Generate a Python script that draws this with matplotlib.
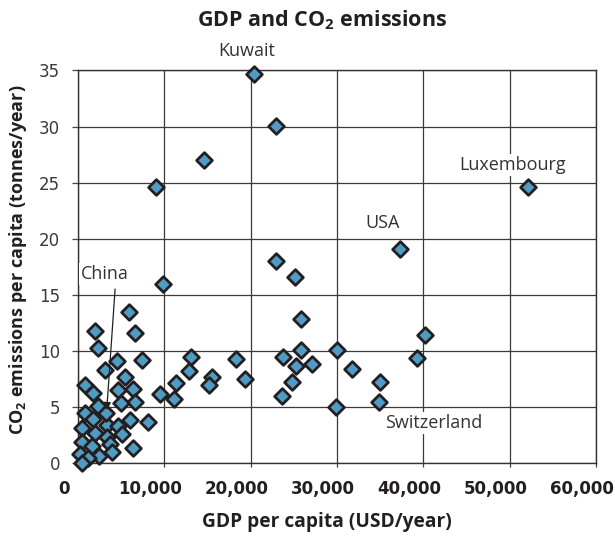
import matplotlib
matplotlib.use('Agg')
import matplotlib.pyplot as plt
import matplotlib.transforms as mtransforms

plt.rcParams['font.family'] = ['Open Sans', 'DejaVu Sans']
plt.rcParams['mathtext.fontset'] = 'custom'
plt.rcParams['mathtext.bf'] = 'Open Sans:bold'
plt.rcParams['mathtext.rm'] = 'Open Sans'
plt.rcParams['mathtext.default'] = 'bf'

# GDP per capita (USD/year) and CO2 per capita (tonnes/year)
gdp = [20430, 22980, 14600, 9040, 22980, 25110, 9880, 25800, 5940, 1940, 6640,
       52180, 37310,
       2280, 7380, 4480, 3130, 13090, 12900, 11390, 5390, 810, 1770, 4670, 6410,
       9460, 11080, 6600, 4950, 2350, 810, 8150, 6060, 1770, 430, 1970, 3330,
       4670, 5060, 3330, 430, 1590, 6340, 3710, 230, 2470, 3910, 1190, 430, 3300,
       15490, 15210, 18340, 19350, 23720, 25840, 25260, 27080, 24760, 23600,
       30050, 31720, 34990, 29900, 34880, 40210, 39250]
co2 = [34.7, 30.1, 27.0, 24.6, 18.0, 16.6, 16.0, 12.9, 13.5, 11.8, 11.6,
       24.6, 19.1,
       10.3, 9.2, 9.1, 8.3, 9.5, 8.2, 7.2, 7.7, 7.0, 6.3, 6.5, 6.6,
       6.2, 5.7, 5.5, 5.4, 5.1, 4.5, 3.7, 3.9, 4.0, 3.2, 2.7, 3.4,
       3.3, 2.6, 2.4, 1.9, 1.6, 1.4, 1.7, 0.8, 0.7, 1.0, 0.5, 0.05, 4.5,
       7.7, 7.0, 9.3, 7.5, 9.5, 10.1, 8.7, 8.9, 7.3, 6.0,
       10.1, 8.4, 7.3, 5.0, 5.5, 11.4, 9.4]

# country labels: text, label x, label y
labels = ['Kuwait', 'Luxembourg', 'USA', 'Switzerland']
label_x = [19540, 50290, 35230, 41170]
label_y = [36.7, 26.6, 21.4, 3.6]

fig = plt.figure(figsize=(6.15, 5.41), dpi=100)
ax = fig.add_axes([0.1268, 0.1433, 0.8423, 0.7264])

ax.scatter(gdp, co2, marker='D', s=64, facecolor='#4f9bc4', edgecolor='#231f20',
           linewidth=2.0, zorder=4, clip_on=False)

ax.set_xlim(0, 60000)
ax.set_ylim(0, 35)
ax.set_xticks(range(0, 60001, 10000))
ax.set_xticklabels(['0', '10,000', '20,000', '30,000', '40,000', '50,000', '60,000'])
ax.set_yticks(range(0, 36, 5))
ax.grid(True, color='#3a3a3a', linewidth=0.9)
ax.set_axisbelow(True)
for sp in ax.spines.values():
    sp.set_color('#333333')
    sp.set_linewidth(1.0)

ax.tick_params(axis='x', length=3, width=0.9, color='#444444', pad=9,
               labelsize=12, labelcolor='#231f20')
ax.tick_params(axis='y', length=4.5, width=0.9, color='#444444', pad=8.5,
               labelsize=12, labelcolor='#3a3a3a')
for lab in ax.get_xticklabels():
    lab.set_fontfamily('DejaVu Sans')
    lab.set_fontweight('bold')
    lab.set_transform(lab.get_transform() +
                      mtransforms.ScaledTranslation(-0.14, 0, fig.dpi_scale_trans))
for lab in ax.get_yticklabels():
    lab.set_fontfamily('DejaVu Sans')

box = dict(facecolor='white', edgecolor='none', pad=1.5)
for t, x, y in zip(labels, label_x, label_y):
    ax.text(x, y, t, ha='center', va='center', fontsize=13, color='#333333',
            bbox=box, zorder=5, clip_on=False)

ax.annotate('China', xy=(3330, 4.76), xytext=(3130, 16.9), ha='center', va='center',
            fontsize=13, color='#333333', bbox=box, zorder=6,
            arrowprops=dict(arrowstyle='-|>', color='#231f20', lw=0.9,
                            mutation_scale=11, shrinkA=3, shrinkB=0, relpos=(0.72, 0)),
            annotation_clip=False)

fig.text(322 / 615, 1 - 20 / 541, 'GDP and CO$_2$ emissions', ha='center', va='center',
         fontsize=15.5, fontweight='bold', color='#231f20')
fig.text(327 / 615, 1 - 522 / 541, 'GDP per capita (USD/year)', ha='center', va='center',
         fontsize=13.8, fontweight='bold', color='#231f20')
fig.text(18 / 615, 1 - 260 / 541, 'CO$_2$ emissions per capita (tonnes/year)',
         ha='center', va='center', rotation=90, fontsize=13, fontweight='bold',
         color='#231f20')

fig.savefig('out.png', dpi=100)
